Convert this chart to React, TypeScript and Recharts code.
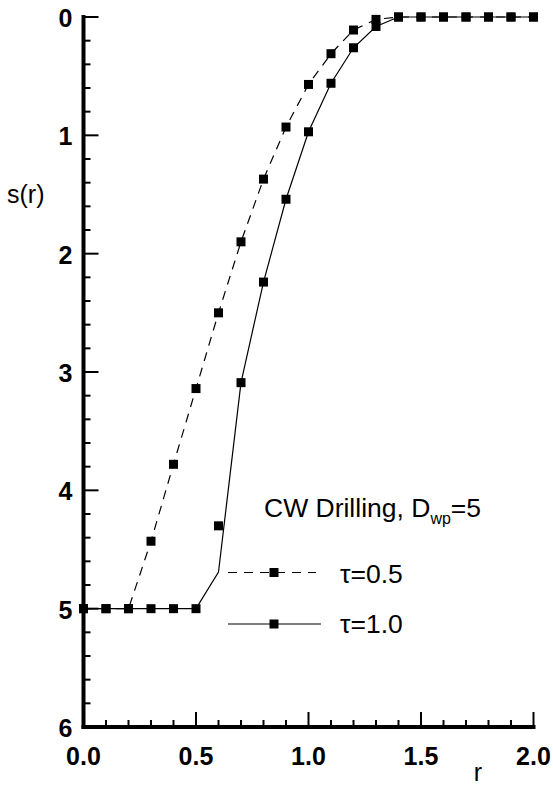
import React from "react"
import { ComposedChart, Line, Scatter, XAxis, YAxis } from "recharts"

// radius values and s(r)
const rValues = [0, 0.1, 0.2, 0.3, 0.4, 0.5, 0.6, 0.7, 0.8, 0.9, 1.0, 1.1, 1.2, 1.3, 1.4, 1.5, 1.6, 1.7, 1.8, 1.9, 2.0]
const tau05 = [5, 5, 5, 4.43, 3.78, 3.14, 2.5, 1.9, 1.37, 0.93, 0.57, 0.31, 0.11, 0.02, 0, 0, 0, 0, 0, 0, 0]
const tau10Marks = [5, 5, 5, 5, 5, 5, 4.3, 3.09, 2.24, 1.54, 0.97, 0.56, 0.26, 0.08, 0, 0, 0, 0, 0, 0, 0]
const tau10Curve = [5, 5, 5, 5, 5, 5, 4.69, 3.09, 2.24, 1.54, 0.97, 0.56, 0.26, 0.08, 0, 0, 0, 0, 0, 0, 0]

const xTicks = [0, 0.1, 0.2, 0.3, 0.4, 0.5, 0.6, 0.7, 0.8, 0.9, 1.0, 1.1, 1.2, 1.3, 1.4, 1.5, 1.6, 1.7, 1.8, 1.9, 2.0]
const yTicks = [0, 0.2, 0.4, 0.6, 0.8, 1, 1.2, 1.4, 1.6, 1.8, 2, 2.2, 2.4, 2.6, 2.8, 3, 3.2, 3.4, 3.6, 3.8, 4, 4.2, 4.4, 4.6, 4.8, 5, 5.2, 5.4, 5.6, 5.8, 6]

const toPoints = (ys: number[]) => rValues.map((r, i) => ({ r, s: ys[i] }))
const dashPts = toPoints(tau05)
const solidMarkPts = toPoints(tau10Marks)
const solidCurvePts = toPoints(tau10Curve)

const FONT = '"Liberation Sans", Arial, Helvetica, sans-serif'
const isMajor = (v: number, step: number) => Math.abs(v / step - Math.round(v / step)) < 1e-6

const BottomTick = (props: any) => {
  const { x, y, payload } = props
  const major = isMajor(payload.value, 0.5)
  return (
    <g>
      <line x1={x} x2={x} y1={y} y2={y - (major ? 15 : 7)} stroke="#000" strokeWidth={2} />
      {major && (
        <text x={x} y={y + 37.5} textAnchor="middle" fontSize={25} fontWeight="bold" fontFamily={FONT} fill="#000">
          {payload.value.toFixed(1)}
        </text>
      )}
    </g>
  )
}

const TopTick = (props: any) => {
  const { x, y, payload } = props
  const major = isMajor(payload.value, 0.5)
  return <line x1={x} x2={x} y1={y} y2={y + (major ? 15 : 7)} stroke="#000" strokeWidth={2} />
}

const LeftTick = (props: any) => {
  const { x, y, payload } = props
  const major = isMajor(payload.value, 1)
  return (
    <g>
      <line x1={x} x2={x + (major ? 15 : 7)} y1={y} y2={y} stroke="#000" strokeWidth={2} />
      {major && (
        <text x={x - 11} y={y + 10} textAnchor="end" fontSize={25} fontWeight="bold" fontFamily={FONT} fill="#000">
          {Math.round(payload.value)}
        </text>
      )}
    </g>
  )
}

const RightTick = (props: any) => {
  const { x, y, payload } = props
  const major = isMajor(payload.value, 1)
  return <line x1={x} x2={x - (major ? 15 : 7)} y1={y} y2={y} stroke="#000" strokeWidth={2} />
}

const Square = (p: any) => <rect x={p.cx - 4.5} y={p.cy - 4.5} width={9} height={9} fill="#000" />

const axisLine = { stroke: "#000", strokeWidth: 4, strokeLinecap: "square" as const }

export default function App() {
  return (
    <div style={{ position: "absolute", left: 0, top: 0, width: 553, height: 785, background: "#fff" }}>
      <ComposedChart width={553} height={785} margin={{ top: 17, right: 19.5, bottom: 0, left: 0 }}>
        <XAxis
          xAxisId="b"
          dataKey="r"
          type="number"
          domain={[0, 2]}
          ticks={xTicks}
          interval={0}
          height={58}
          tickSize={0}
          tickMargin={0}
          tickLine={false}
          tick={<BottomTick />}
          axisLine={axisLine}
        />
        <XAxis
          xAxisId="t"
          dataKey="r"
          type="number"
          orientation="top"
          domain={[0, 2]}
          ticks={xTicks}
          interval={0}
          height={0}
          tickSize={0}
          tickMargin={0}
          tickLine={false}
          tick={<TopTick />}
          axisLine={axisLine}
        />
        <YAxis
          yAxisId="l"
          dataKey="s"
          type="number"
          reversed
          domain={[0, 6]}
          ticks={yTicks}
          interval={0}
          width={83.5}
          tickSize={0}
          tickMargin={0}
          tickLine={false}
          tick={<LeftTick />}
          axisLine={axisLine}
        />
        <YAxis
          yAxisId="rt"
          dataKey="s"
          type="number"
          orientation="right"
          reversed
          domain={[0, 6]}
          ticks={yTicks}
          interval={0}
          width={0}
          tickSize={0}
          tickMargin={0}
          tickLine={false}
          tick={<RightTick />}
          axisLine={axisLine}
        />
        <Line
          xAxisId="t"
          yAxisId="rt"
          data={dashPts}
          dataKey="s"
          stroke="none"
          dot={false}
          activeDot={false}
          isAnimationActive={false}
        />
        <Line
          xAxisId="b"
          yAxisId="l"
          data={dashPts}
          dataKey="s"
          type="linear"
          stroke="#000"
          strokeWidth={1.2}
          strokeDasharray="9 7"
          dot={false}
          activeDot={false}
          isAnimationActive={false}
        />
        <Line
          xAxisId="b"
          yAxisId="l"
          data={solidCurvePts}
          dataKey="s"
          type="linear"
          stroke="#000"
          strokeWidth={1.2}
          dot={false}
          activeDot={false}
          isAnimationActive={false}
        />
        <Scatter xAxisId="b" yAxisId="l" data={dashPts} shape={Square} isAnimationActive={false} />
        <Scatter xAxisId="b" yAxisId="l" data={solidMarkPts} shape={Square} isAnimationActive={false} />
      </ComposedChart>

      {/* titles and legend */}
      <svg width={553} height={785} style={{ position: "absolute", left: 0, top: 0, pointerEvents: "none" }}>
        <g fontFamily={FONT} fill="#000">
          <text x={7} y={203} fontSize={25}>s(r)</text>
          <text x={478} y={781} fontSize={25} textAnchor="middle">r</text>
          <text x={264} y={517} fontSize={26.5}>
            <tspan>CW Drilling, D</tspan>
            <tspan fontSize={16} dy={7}>wp</tspan>
            <tspan dy={-7}>=5</tspan>
          </text>
          <line x1={228} x2={316} y1={572.5} y2={572.5} stroke="#000" strokeWidth={1.2} strokeDasharray="9 7" />
          <rect x={269.5} y={568} width={9} height={9} />
          <text x={340} y={583} fontSize={26.5}>τ=0.5</text>
          <line x1={228} x2={321} y1={624} y2={624} stroke="#000" strokeWidth={1.2} />
          <rect x={269.5} y={619.5} width={9} height={9} />
          <text x={340} y={633} fontSize={26.5}>τ=1.0</text>
        </g>
      </svg>
    </div>
  )
}
